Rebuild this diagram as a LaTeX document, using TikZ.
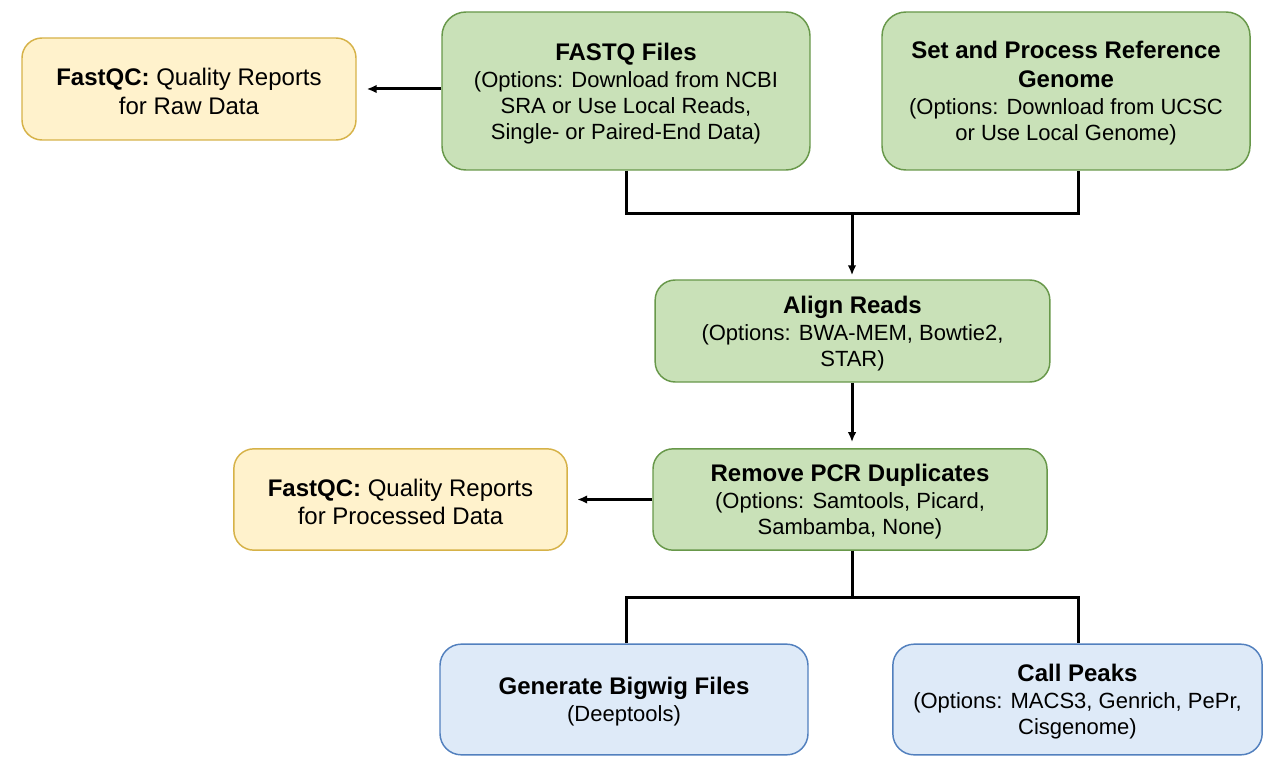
\documentclass[tikz,border=0pt]{standalone}
\usepackage{fontspec}
\setmainfont{Liberation Sans}
\usetikzlibrary{arrows.meta,calc}
\definecolor{gruenfill}{RGB}{201,225,184}
\definecolor{gruenrand}{RGB}{104,152,74}
\definecolor{gelbfill}{RGB}{255,242,204}
\definecolor{gelbrand}{RGB}{214,178,72}
\definecolor{blaufill}{RGB}{222,234,248}
\definecolor{blaurand}{RGB}{82,128,190}
\tikzset{
	kasten/.style={draw,line width=1.1pt,align=center,inner sep=2pt,
		font=\fontsize{16.5}{19.5}\selectfont},
	gruen/.style={kasten,fill=gruenfill,draw=gruenrand},
	gelb/.style={kasten,fill=gelbfill,draw=gelbrand,rounded corners=15pt,
		font=\fontsize{18}{21.5}\selectfont},
	blau/.style={kasten,fill=blaufill,draw=blaurand,rounded corners=16pt},
	verb/.style={line width=2.25pt},
}
\newcommand{\titel}[1]{{\fontsize{18}{21.5}\selectfont\bfseries\rule{0pt}{16.5pt}#1}}
\newcommand{\hoch}{\rule{0pt}{16.5pt}}
\begin{document}
\begin{tikzpicture}[x=0.75pt,y=-0.75pt,>={Latex[length=7.5pt,width=6.5pt]}]
\useasboundingbox (0,0) rectangle (1276,773);
% obere Reihe
\node[gelb,minimum width=250.5pt,minimum height=76.5pt] (rohqc) at (189,89)
	{\hoch\textbf{FastQC:} Quality Reports\\for Raw Data};
\node[gruen,rounded corners=18pt,minimum width=276pt,minimum height=118.5pt] (fastq) at (626,91)
	{\titel{FASTQ Files}\\[0.75pt](Options: Download from NCBI\\SRA or Use Local Reads,\\Single- or Paired-End Data)};
\node[gruen,rounded corners=18pt,minimum width=276pt,minimum height=118.5pt] (genom) at (1066,91)
	{\titel{Set and Process Reference}\\[2.25pt]\titel{Genome}\\[0.75pt](Options: Download from UCSC\\or Use Local Genome)};
% mittlere Reihe
\node[gruen,rounded corners=15pt,minimum width=296pt,minimum height=76.5pt] (align) at (852.5,331)
	{\titel{Align Reads}\\[0.75pt](Options: BWA-MEM, Bowtie2,\\STAR)};
\node[gruen,rounded corners=15pt,minimum width=295.5pt,minimum height=76pt] (dupl) at (850,499.5)
	{\titel{Remove PCR Duplicates}\\[0.75pt](Options: Samtools, Picard,\\Sambamba, None)};
\node[gelb,minimum width=250pt,minimum height=76pt] (procqc) at (400.5,499.5)
	{\hoch\textbf{FastQC:} Quality Reports\\for Processed Data};
% untere Reihe
\node[blau,minimum width=276pt,minimum height=83pt] (bigwig) at (624,699.5)
	{\titel{Generate Bigwig Files}\\[0.75pt](Deeptools)};
\node[blau,minimum width=277pt,minimum height=83pt] (peaks) at (1077.5,699.5)
	{\titel{Call Peaks}\\[0.75pt](Options: MACS3, Genrich, PePr,\\Cisgenome)};
% Verbindungen
\coordinate (oben) at (852,214);
\coordinate (unten) at (852,597);
\draw[verb,->,shorten >=7.5pt] (fastq.west |- rohqc.east) -- (rohqc.east);
\draw[verb,->,shorten >=7pt] (dupl.west) -- (procqc.east);
\draw[verb] (fastq.south) |- (oben) -| ([xshift=9pt]genom.south);
\draw[verb,->,shorten >=3pt] (oben) -- (align.north -| oben);
\draw[verb,->,shorten >=4.5pt] (align.south -| oben) -- (dupl.north -| oben);
\draw[verb] (dupl.south -| unten) -- (unten);
\draw[verb] ([xshift=1.5pt]bigwig.north) |- (unten) -| ([xshift=0.4pt]peaks.north);
\end{tikzpicture}
\end{document}
